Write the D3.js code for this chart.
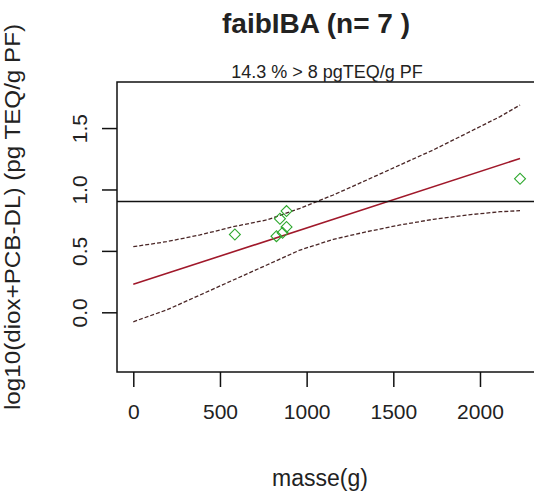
<!DOCTYPE html>
<html>
<head>
<meta charset="utf-8">
<script src="https://cdn.jsdelivr.net/npm/d3@7"></script>
<style>
  body { margin: 0; background: #fff; }
  text { font-family: "Liberation Sans", Arial, sans-serif; fill: #222; }
</style>
</head>
<body>
<div id="canvas"></div>
<script>
// observed points
var masse = [586, 826, 846, 861, 884, 884, 2231];
var logTeq = [0.634, 0.620, 0.762, 0.648, 0.694, 0.824, 1.087];

// fitted line and confidence band
var fitX = [0, 2231];
var fitY = [0.228, 1.252];
var bandX = [0, 192, 385, 577, 770, 962, 1154, 1347, 1539, 1731, 1924, 2116, 2231];
var bandUp = [0.534, 0.575, 0.630, 0.697, 0.752, 0.847, 0.955, 1.077, 1.200, 1.322, 1.458, 1.593, 1.688];
var bandLo = [-0.077, 0.019, 0.141, 0.263, 0.385, 0.507, 0.594, 0.656, 0.711, 0.757, 0.792, 0.819, 0.827];

var threshold = Math.log10(8);
var xTicks = [0, 500, 1000, 1500, 2000];
var yTicks = [0, 0.5, 1, 1.5];

var W = 534, H = 495;
var m = {t:82, l:117, b:372, r:567};

var svg = d3.select('#canvas').append('svg')
    .attr('width', W).attr('height', H);
svg.append('rect').attr('width', W).attr('height', H).attr('fill', '#fff');

var x = d3.scaleLinear().domain([-94, 2502]).range([m.l, m.r]);
var y = d3.scaleLinear().domain([-0.486, 1.875]).range([m.b, m.t]);

var plot = svg.append('g');

//band lines
var line = d3.line().x(function(d){ return x(d[0]); }).y(function(d){ return y(d[1]); });

plot.append('path')
    .attr('d', line(bandX.map(function(v,i){ return [v, bandUp[i]]; })))
    .attr('fill','none').attr('stroke','#4a2626').attr('stroke-width',1.3)
    .attr('stroke-dasharray','4,2');
plot.append('path')
    .attr('d', line(bandX.map(function(v,i){ return [v, bandLo[i]]; })))
    .attr('fill','none').attr('stroke','#4a2626').attr('stroke-width',1.3)
    .attr('stroke-dasharray','4,2');

//fit
plot.append('path')
    .attr('d', line(fitX.map(function(v,i){ return [v, fitY[i]]; })))
    .attr('fill','none').attr('stroke','#a0182a').attr('stroke-width',1.6);

//threshold line
plot.append('line')
    .attr('x1', m.l).attr('x2', m.r)
    .attr('y1', y(threshold)).attr('y2', y(threshold))
    .attr('stroke','#111').attr('stroke-width',1.5);

//points
var diamond = d3.symbol().type(d3.symbolSquare).size(60);
plot.selectAll('.pt')
    .data(masse)
    .enter()
    .append('path')
    .attr('class','pt')
    .attr('d', diamond)
    .attr('transform', function(d,i){ return 'translate(' + x(d) + ',' + y(logTeq[i]) + ') rotate(45)'; })
    .attr('fill','none').attr('stroke','#2ea82e').attr('stroke-width',1.1);

//box
svg.append('rect')
    .attr('x', m.l).attr('y', m.t)
    .attr('width', m.r - m.l).attr('height', m.b - m.t)
    .attr('fill','none').attr('stroke','#111').attr('stroke-width',1.5);

//axes
var xAxis = svg.append('g')
    .attr('transform','translate(0,' + m.b + ')')
    .call(d3.axisBottom(x).tickValues(xTicks).tickSize(15).tickPadding(17).tickFormat(d3.format('d')));
xAxis.select('.domain').remove();
xAxis.selectAll('line').attr('stroke','#111').attr('stroke-width',1.5);
xAxis.selectAll('text').attr('font-size', 21).attr('fill','#222');

var yAxis = svg.append('g')
    .attr('transform','translate(' + m.l + ',0)')
    .call(d3.axisLeft(y).tickValues(yTicks).tickSize(15).tickFormat(d3.format('.1f')));
yAxis.select('.domain').remove();
yAxis.selectAll('line').attr('stroke','#111').attr('stroke-width',1.5);
yAxis.selectAll('text')
    .attr('font-size', 21).attr('fill','#222')
    .attr('text-anchor','middle')
    .attr('dy', 0)
    .attr('transform', 'rotate(-90)')
    .attr('x', 0)
    .attr('y', -30);

//titles
svg.append('text').attr('x', 316).attr('y', 33)
    .attr('text-anchor','middle').attr('font-size', 28).attr('font-weight','bold')
    .text('faibIBA (n= 7 )');
svg.append('text').attr('x', 327).attr('y', 78)
    .attr('text-anchor','middle').attr('font-size', 18)
    .text('14.3 % > 8 pgTEQ/g PF');
svg.append('text').attr('x', 320).attr('y', 486)
    .attr('text-anchor','middle').attr('font-size', 23)
    .text('masse(g)');
svg.append('text')
    .attr('transform','translate(20,217) rotate(-90)')
    .attr('text-anchor','middle').attr('font-size', 22)
    .attr('textLength', 386).attr('lengthAdjust','spacingAndGlyphs')
    .text('log10(diox+PCB-DL) (pg TEQ/g PF)');
</script>
</body>
</html>
